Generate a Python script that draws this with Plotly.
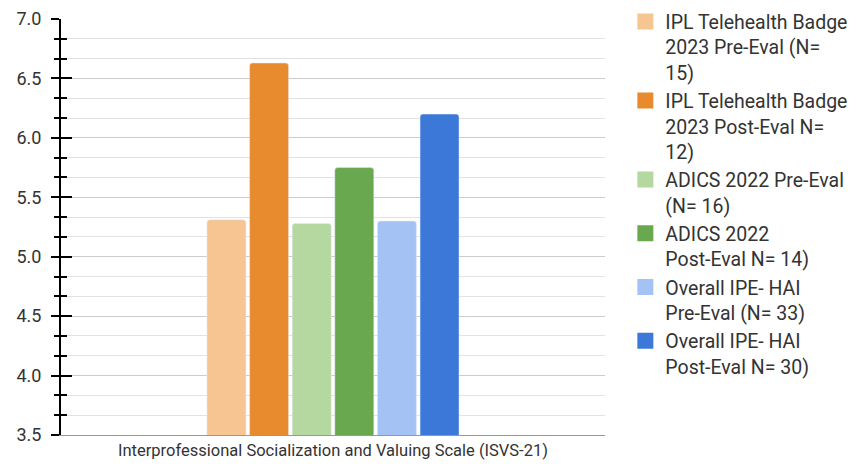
import plotly.graph_objects as go

# ISVS-21 mean scores by cohort
category = ["Interprofessional Socialization and Valuing Scale (ISVS-21)"]
series_names = [
    "IPL Telehealth Badge<br>2023 Pre-Eval (N=<br>15)",
    "IPL Telehealth Badge<br>2023 Post-Eval N=<br>12)",
    "ADICS 2022 Pre-Eval<br>(N= 16)",
    "ADICS 2022<br>Post-Eval N= 14)",
    "Overall IPE- HAI<br>Pre-Eval (N= 33)",
    "Overall IPE- HAI<br>Post-Eval N= 30)",
]
series_values = [5.31, 6.63, 5.28, 5.75, 5.30, 6.20]
series_colors = ["#F6C591", "#E88B2E", "#B4D8A0", "#6AA84F", "#A4C2F4", "#3C78D8"]
y_range = [3.5, 7.0]

FONT = "Roboto"
TEXT = "#333333"

fig = go.Figure()
for name, val, col in zip(series_names, series_values, series_colors):
    fig.add_trace(go.Bar(
        x=category, y=[val], name=name, marker=dict(color=col, cornerradius=3),
        showlegend=False, legendgroup=name,
    ))
    # legend swatch
    fig.add_trace(go.Scatter(
        x=[None], y=[None], mode="markers", name=name, legendgroup=name,
        marker=dict(symbol="square", size=16, color=col),
    ))

fig.update_layout(
    width=859, height=464,
    margin=dict(l=61, r=254, t=19, b=29),
    paper_bgcolor="white", plot_bgcolor="white",
    barmode="group", bargap=0.53, bargroupgap=0.085,
    font=dict(family=FONT, color=TEXT),
    legend=dict(
        xref="container", yref="container", x=0.728, y=0.995,
        xanchor="left", yanchor="top", valign="top", maxheight=460,
        font=dict(family=FONT, size=19.5, color=TEXT),
        tracegroupgap=0, bgcolor="rgba(0,0,0,0)",
    ),
    xaxis=dict(
        showline=True, linecolor="#999999", linewidth=1, automargin=False,
        tickfont=dict(family=FONT, size=16.5, color=TEXT), ticks="",
    ),
    yaxis=dict(
        range=y_range, tick0=3.5, dtick=0.5, tickformat=".1f", automargin=False,
        ticks="outside", ticklen=8, tickwidth=2, tickcolor="black",
        showline=True, linecolor="black", linewidth=2,
        showgrid=True, gridcolor="#cccccc", gridwidth=1,
        zeroline=False,
        tickfont=dict(family=FONT, size=18, color=TEXT),
        ticklabelstandoff=6,
        minor=dict(dtick=0.5 / 3, tick0=3.5, ticks="outside", ticklen=5,
                   tickwidth=2, tickcolor="black", showgrid=True,
                   gridcolor="#e2e2e2", gridwidth=1),
    ),
    yaxis2=dict(
        range=y_range, overlaying="y", side="left", anchor="x", automargin=False,
        tick0=3.5, dtick=0.5, ticks="inside", ticklen=11, tickwidth=2,
        tickcolor="black", showticklabels=False, showgrid=False,
        zeroline=False, showline=False,
        minor=dict(dtick=0.5 / 3, tick0=3.5, ticks="inside", ticklen=6,
                   tickwidth=2, tickcolor="black", showgrid=False),
    ),
)
# empty trace so the overlay axis draws its ticks
fig.add_trace(go.Scatter(x=[None], y=[None], yaxis="y2", showlegend=False,
                         hoverinfo="skip"))

fig.write_html("out.html")
